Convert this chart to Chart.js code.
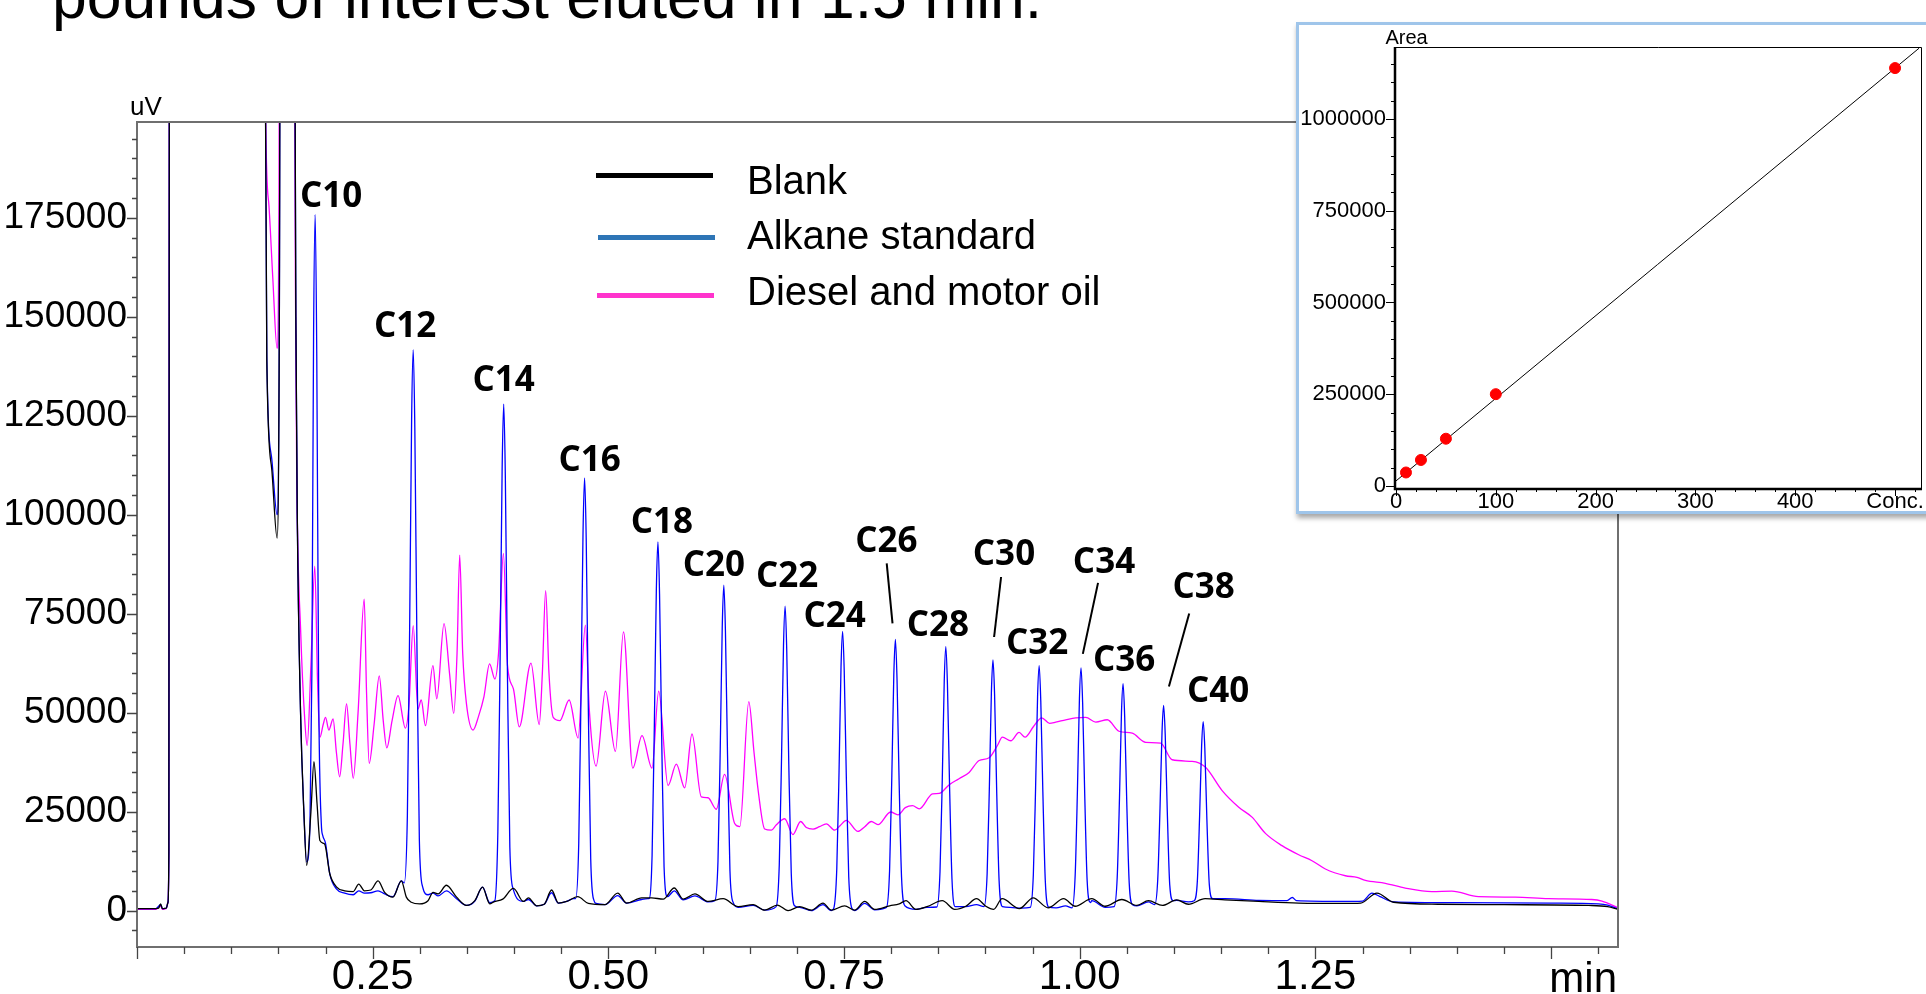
<!DOCTYPE html>
<html>
<head>
<meta charset="utf-8">
<script src="https://cdn.jsdelivr.net/npm/chart.js@4.4.1/dist/chart.umd.min.js"></script>
<style>
  html, body { margin: 0; padding: 0; background: #fff; }
  body { width: 1926px; height: 994px; position: relative; overflow: hidden; font-family: 'Liberation Sans', Arial, sans-serif; }
  #title { position: absolute; left: 52px; top: -35px; font-size: 62.5px; line-height: 62px; white-space: nowrap; color: #000; }
  #main { position: absolute; left: 0; top: 0; }
  .legLine { position: absolute; width: 117px; height: 5px; }
  .legText { position: absolute; left: 747px; font-size: 40px; line-height: 40px; white-space: nowrap; color: #000; }
  #inset { position: absolute; left: 1296px; top: 22px; width: 640px; height: 486px; background: #fff;
           border: 3px solid #9fc5ea; box-shadow: 1px 4px 5px rgba(0,0,0,0.35); }
  #calib { position: absolute; left: 0; top: 0; }
</style>
</head>
<body>
<div id="title">pounds of interest eluted in 1.5 min.</div>
<canvas id="main" width="1926" height="994"></canvas>

<div class="legLine" style="left:596px; top:173px; background:#000;"></div>
<div class="legText" style="top:160px;">Blank</div>
<div class="legLine" style="left:598px; top:235px; background:#2e75b6;"></div>
<div class="legText" style="top:215px;">Alkane standard</div>
<div class="legLine" style="left:597px; top:293px; background:#ff33cc;"></div>
<div class="legText" style="top:271px;">Diesel and motor oil</div>

<div id="inset"><canvas id="calib" width="640" height="486"></canvas></div>

<script>
// Blank run (black trace), time in min / signal in uV
const blankTime = [0.000, 0.020, 0.023, 0.025, 0.027, 0.031, 0.0328, 0.0338, 0.0345, 0.134, 0.1377, 0.143, 0.1486, 0.151, 0.1525, 0.166,
  0.1685, 0.170, 0.1735, 0.177, 0.180, 0.1845, 0.1877, 0.191, 0.194, 0.199, 0.2045, 0.2115, 0.2203, 0.2294, 0.2352, 0.2412,
  0.248, 0.2557, 0.2627, 0.2715, 0.2804, 0.2857, 0.291, 0.2998, 0.3087, 0.314, 0.3194, 0.3282, 0.339, 0.3496, 0.3584, 0.3665,
  0.3742, 0.3785, 0.388, 0.3993, 0.4099, 0.4152, 0.424, 0.432, 0.4398, 0.447, 0.4558, 0.4675, 0.4788, 0.4964, 0.5099, 0.5194,
  0.5353, 0.5459, 0.5582, 0.5699, 0.5794, 0.5918, 0.6059, 0.6218, 0.6377, 0.6536, 0.6659, 0.6793, 0.6906, 0.7029, 0.7153, 0.7277,
  0.7365, 0.7506, 0.7613, 0.7719, 0.7825, 0.7984, 0.8086, 0.8157, 0.8263, 0.838, 0.8542, 0.8674, 0.8792, 0.8905, 0.9004, 0.9087,
  0.9177, 0.936, 0.9506, 0.9665, 0.9829, 0.9952, 1.0128, 1.027, 1.0447, 1.0606, 1.0729, 1.0878, 1.1029, 1.1153, 1.133, 1.154,
  1.19, 1.2323, 1.28, 1.298, 1.3153, 1.333, 1.38, 1.45, 1.54, 1.56, 1.571];
const blankUV = [500, 500, 600, 1700, 500, 600, 2000, 15000, 300000, 300000, 138800, 111400, 94100, 150000, 300000, 300000,
  150000, 100000, 50000, 25000, 11400, 25000, 37600, 27000, 17700, 16800, 9300, 6000, 5000, 4800, 6700, 5000,
  5200, 7500, 4600, 3400, 7500, 3400, 2100, 1700, 2500, 4600, 4200, 6400, 3400, 1300, 2500, 5900,
  1700, 2200, 2900, 5600, 2300, 3200, 1200, 1600, 5200, 1900, 2300, 3500, 1800, 1500, 4400, 1900,
  3200, 3200, 2900, 5700, 2900, 4200, 2300, 3000, 1000, 1500, 100, 1400, 0, 1000, 100, 1900,
  100, 1200, 100, 2300, 300, 1200, 1700, 2500, 300, 1000, 2500, 300, 1100, 3000, 1100, 300,
  3000, 500, 3200, 700, 3000, 1100, 3000, 1100, 2800, 1300, 2500, 1300, 2700, 1600, 3000, 2700,
  2300, 1900, 1800, 1900, 4400, 2100, 1600, 1500, 1300, 1000, 300];

// Alkane standard (blue trace)
const alkaneTime = [0.000, 0.020, 0.025, 0.027, 0.031, 0.0328, 0.0338, 0.0345, 0.134, 0.1377, 0.143, 0.1486, 0.151, 0.1525, 0.166,
  0.1685, 0.170, 0.1735, 0.177, 0.180, 0.1835, 0.1855, 0.1873, 0.189, 0.1907, 0.1927, 0.1955, 0.197, 0.200, 0.2045, 0.2115,
  0.2203, 0.2294, 0.2352, 0.2412, 0.248, 0.2557, 0.2627, 0.2715, 0.2804,
  0.2835, 0.2868, 0.2892, 0.2913, 0.293, 0.2947, 0.2969, 0.2995, 0.303,
  0.3087, 0.314, 0.3194, 0.3282, 0.339, 0.3496, 0.3584, 0.3665, 0.3742,
  0.3795, 0.3828, 0.3852, 0.3873, 0.389, 0.3907, 0.3929, 0.3955, 0.399,
  0.4099, 0.4152, 0.424, 0.432, 0.4398, 0.447, 0.4558, 0.463,
  0.4653, 0.4686, 0.471, 0.4731, 0.4748, 0.4765, 0.4787, 0.4813, 0.4848,
  0.487, 0.4964, 0.5099, 0.5194, 0.5353, 0.542,
  0.5431, 0.5464, 0.5488, 0.5509, 0.5526, 0.5543, 0.5565, 0.5591, 0.5626,
  0.5699, 0.5794, 0.5918, 0.6059,
  0.613, 0.6163, 0.6187, 0.6208, 0.6225, 0.6242, 0.6264, 0.629, 0.6325,
  0.6377, 0.6536, 0.6659,
  0.678, 0.6813, 0.6837, 0.6858, 0.6875, 0.6892, 0.6914, 0.694, 0.6975,
  0.7029, 0.7153, 0.7277, 0.7365,
  0.739, 0.7423, 0.7447, 0.7468, 0.7485, 0.7502, 0.7524, 0.755, 0.7585,
  0.7613, 0.7719, 0.7825,
  0.795, 0.7983, 0.8007, 0.8028, 0.8045, 0.8062, 0.8084, 0.811, 0.8145,
  0.8263, 0.838,
  0.8485, 0.8518, 0.8542, 0.8563, 0.858, 0.8597, 0.8619, 0.8645, 0.868,
  0.8792, 0.8905,
  0.8985, 0.9018, 0.9042, 0.9063, 0.908, 0.9097, 0.9119, 0.9145, 0.918,
  0.926, 0.938,
  0.9475, 0.9508, 0.9532, 0.9553, 0.957, 0.9587, 0.9609, 0.9635, 0.967,
  0.975, 0.985,
  0.9919, 0.9952, 0.9976, 0.9997, 1.0014, 1.0031, 1.0053, 1.0079, 1.0114,
  1.0128, 1.027,
  1.0365, 1.0398, 1.0422, 1.0443, 1.046, 1.0477, 1.0499, 1.0525, 1.056,
  1.0606, 1.0729,
  1.0795, 1.0828, 1.0852, 1.0873, 1.089, 1.0907, 1.0929, 1.0955, 1.099,
  1.1029, 1.1153,
  1.1215, 1.1248, 1.1272, 1.1293, 1.131, 1.1327, 1.1349, 1.1375, 1.141,
  1.154, 1.19, 1.22, 1.2255, 1.23, 1.28, 1.30, 1.31, 1.318, 1.333, 1.40, 1.50, 1.55, 1.56, 1.571];
const alkaneUV = [500, 500, 1500, 500, 600, 2000, 15000, 300000, 300000, 140000, 114000, 100000, 150000, 300000, 300000,
  150000, 100000, 50000, 25000, 12300, 22000, 60000, 145000, 175800, 140000, 55000, 22000, 19000, 17000, 9300, 5500,
  4400, 4000, 5000, 4400, 4500, 5000, 4200, 3500, 7500,
  7000, 24000, 71000, 124000, 141600, 122000, 68000, 18000, 6000,
  4000, 4400, 3700, 5000, 3000, 1300, 2400, 5900, 2000,
  2500, 20000, 64000, 111000, 127900, 110000, 61000, 16000, 5500,
  2300, 2800, 1200, 1600, 4500, 1900, 2300, 3000,
  3000, 17000, 55000, 95000, 109300, 94000, 52000, 13000, 2500,
  1800, 1500, 3800, 1900, 2800, 3000,
  3000, 14000, 47000, 81000, 93100, 80000, 45000, 11000, 3500,
  5000, 2700, 3700, 2200,
  2500, 12500, 41000, 71500, 82200, 70500, 39500, 10000, 2000,
  800, 1300, 100,
  1000, 11500, 38500, 67000, 76900, 66000, 37000, 9500, 1200,
  800, 0, 1500, 0,
  500, 10500, 35000, 61500, 70500, 60500, 34000, 8500, 500,
  0, 1800, 200,
  800, 10000, 34000, 59500, 68500, 58500, 33000, 8500, 1200,
  300, 800,
  900, 9800, 33000, 58000, 66700, 57000, 32000, 8000, 1000,
  1000, 1500,
  1000, 9300, 31500, 55000, 63300, 54500, 30500, 7500, 1000,
  800, 600,
  800, 9000, 31000, 54000, 61900, 53000, 30000, 7500, 900,
  700, 1200,
  700, 9000, 30500, 53500, 61300, 52500, 29500, 7500, 2000,
  2500, 800,
  1000, 8500, 28500, 50000, 57300, 49000, 27500, 7000, 1500,
  1200, 2200,
  1500, 8000, 26000, 45000, 51800, 44500, 25000, 6500, 2500,
  2600, 2200,
  2500, 7500, 24000, 41500, 47700, 41000, 23000, 6500, 3000,
  3000, 2600, 2500, 3300, 2500, 2300, 2400, 4400, 3600, 2200, 2000, 1900, 1700, 1400, 400];

// Diesel and motor oil (magenta trace)
const dieselTime = [0.000, 0.020, 0.025, 0.027, 0.031, 0.0328, 0.0338, 0.0345, 0.1345, 0.1365, 0.140, 0.144, 0.1486, 0.1505, 0.152,
  0.166, 0.168, 0.1694, 0.1737, 0.178, 0.1805, 0.1845, 0.1886, 0.1915, 0.194, 0.1975, 0.200, 0.2035, 0.208, 0.2115, 0.215,
  0.2185, 0.2223, 0.2259, 0.2294, 0.2345, 0.241, 0.2435, 0.2463, 0.2515, 0.257, 0.2612, 0.265, 0.2706, 0.2769, 0.2847, 0.2885,
  0.293, 0.298, 0.3015, 0.306, 0.3139, 0.318, 0.3257, 0.3315, 0.336, 0.3395, 0.3423, 0.3455, 0.3494, 0.3565, 0.3622, 0.368,
  0.374, 0.3796, 0.3835, 0.3887, 0.393, 0.3993, 0.4055, 0.4179, 0.4267, 0.430, 0.4335, 0.437, 0.4415, 0.4486, 0.4584, 0.4679,
  0.4756, 0.480, 0.487, 0.4969, 0.5075, 0.516, 0.5259, 0.5357, 0.5463, 0.5534, 0.5633, 0.5721, 0.581, 0.5887, 0.5986, 0.6057,
  0.6145, 0.6233, 0.634, 0.6395, 0.649, 0.6545, 0.6591, 0.6658, 0.6729, 0.678, 0.687, 0.6958, 0.7039, 0.710, 0.7171, 0.724,
  0.7312, 0.7401, 0.746, 0.7524, 0.7648, 0.772, 0.7789, 0.786, 0.7994, 0.8072, 0.815, 0.8227, 0.8298, 0.8439, 0.851, 0.8616,
  0.872, 0.8827, 0.8933, 0.9039, 0.9127, 0.918, 0.9269, 0.9357, 0.942, 0.951, 0.9597, 0.968, 0.9746, 0.9852, 0.9958, 1.0064,
  1.017, 1.0293, 1.0416, 1.0557, 1.070, 1.0858, 1.0981, 1.1193, 1.1335, 1.1511, 1.1687, 1.1828, 1.197, 1.2146, 1.2323, 1.2464,
  1.2606, 1.2818, 1.2941, 1.303, 1.3242, 1.3453, 1.3736, 1.3947, 1.423, 1.4619, 1.4972, 1.5431, 1.554, 1.571];
const dieselUV = [300, 300, 1200, 300, 500, 2000, 15000, 300000, 300000, 200000, 178000, 160000, 142000, 175000, 300000,
  300000, 160000, 111000, 70000, 48000, 41700, 62000, 87000, 58000, 43800, 47000, 48800, 45600, 48400, 40000, 33800,
  42000, 52200, 42000, 33400, 50000, 78700, 55000, 37200, 47000, 59300, 48000, 41100, 48000, 54300, 46100, 52000,
  72000, 50900, 53200, 46700, 61900, 53500, 72500, 60000, 49800, 65000, 89800, 65000, 52400, 45600, 49000, 54000,
  62300, 58500, 65000, 90200, 62000, 56000, 46400, 62500, 47000, 60000, 80800, 60000, 48800, 48000, 53200, 43600,
  72100, 50000, 36500, 55400, 40200, 70400, 36000, 44200, 36000, 55400, 31600, 37000, 31000, 44600, 28700, 28500,
  25600, 34400, 22000, 21200, 52800, 40000, 30000, 20600, 20300, 21600, 23200, 19200, 22500, 21000, 20600, 21200,
  21900, 20300, 21500, 22800, 20000, 21200, 22500, 21700, 24900, 24200, 26000, 26500, 25700, 29500, 29600, 31800,
  33300, 34900, 37900, 38600, 41700, 43800, 42900, 45000, 43800, 46500, 48700, 47300, 47600, 48200, 48700, 48800,
  47600, 48200, 45300, 44800, 42500, 42300, 38100, 37700, 36200, 30300, 26100, 23600, 19500, 16400, 14100, 12600,
  10500, 8800, 8400, 7600, 6900, 5700, 4800, 4900, 3500, 3400, 3000, 2800, 2400, 700];

// n-alkane peak labels
const peakNames = ['C10', 'C12', 'C14', 'C16', 'C18', 'C20', 'C22', 'C24', 'C26', 'C28', 'C30', 'C32', 'C34', 'C36', 'C38', 'C40'];
const peakTimes = [0.189, 0.293, 0.389, 0.4748, 0.5526, 0.6225, 0.6875, 0.7485, 0.8045, 0.858, 0.908, 0.957, 1.0014, 1.046, 1.089, 1.131];
const peakHeights = [175800, 141600, 127900, 109300, 93100, 82200, 76900, 70500, 68500, 66700, 63300, 61900, 61300, 57300, 51800, 47700];

// calibration inset
const calConc = [10, 25, 50, 100, 500];
const calArea = [36800, 70900, 128800, 250200, 1138800];
const fitConc = [0, 524];
const fitArea = [13800, 1192800];

// layout of label text relative to the apex (px), and leader lines
const labelOffsets = [[16, -20], [-8, -26], [0, -26], [5, -19], [4, -22], [-10, -22], [2, -32], [-8, -17],
  [-9, -100], [-8, -23], [11, -107], [-2, -24], [23, -107], [1, -25], [40, -120], [15, -32]];
const leaderLines = { 8: [-8.7, -76, -2.9, -16], 10: [8.1, -83, 1.1, -23], 12: [17, -85, 1.8, -14], 14: [25.6, -92, 5.3, -19] };

const SANS = "'Liberation Sans', Arial, sans-serif";

function toPoints(xs, ys) {
  return xs.map((x, i) => ({ x: x, y: ys[i] }));
}

const mainDecor = {
  id: 'mainDecor',
  afterDraw(chart) {
    const { ctx, chartArea: a, scales: { x, y } } = chart;
    ctx.save();
    ctx.strokeStyle = '#6f6f6f';
    ctx.lineWidth = 2;
    ctx.strokeRect(a.left, a.top, a.right - a.left, a.bottom - a.top);

    ctx.strokeStyle = '#444';
    ctx.lineWidth = 1.3;
    ctx.beginPath();
    y.ticks.forEach(t => {
      const py = Math.round(y.getPixelForValue(t.value)) + 0.5;
      const len = t.value % 25000 === 0 ? 10 : 5;
      ctx.moveTo(a.left - len, py);
      ctx.lineTo(a.left, py);
    });
    x.ticks.forEach(t => {
      const px = Math.round(x.getPixelForValue(t.value)) + 0.5;
      const len = Math.round(t.value * 100) % 25 === 0 ? 12 : 7;
      ctx.moveTo(px, a.bottom);
      ctx.lineTo(px, a.bottom + len);
    });
    ctx.stroke();

    ctx.fillStyle = '#000';
    ctx.font = '26px ' + SANS;
    ctx.textAlign = 'center';
    ctx.textBaseline = 'alphabetic';
    ctx.fillText('uV', a.left + 9, 115);
    ctx.font = '42px ' + SANS;
    ctx.textAlign = 'right';
    ctx.fillText('min', a.right - 1, 992);

    ctx.font = "bold 35px 'Open Sans', sans-serif";
    ctx.textAlign = 'center';
    peakNames.forEach((name, i) => {
      const px = x.getPixelForValue(peakTimes[i]);
      const py = y.getPixelForValue(peakHeights[i]);
      const off = labelOffsets[i];
      ctx.fillText(name, px + off[0], py + off[1] + 12.5);
      const ln = leaderLines[i];
      if (ln) {
        ctx.beginPath();
        ctx.strokeStyle = '#000';
        ctx.lineWidth = 2;
        ctx.moveTo(px + ln[0], py + ln[1]);
        ctx.lineTo(px + ln[2], py + ln[3]);
        ctx.stroke();
      }
    });
    ctx.restore();
  }
};

new Chart(document.getElementById('main'), {
  type: 'line',
  data: {
    datasets: [
      { label: 'Blank', data: toPoints(blankTime, blankUV), borderColor: '#000000' },
      { label: 'Alkane standard', data: toPoints(alkaneTime, alkaneUV), borderColor: '#0000ff' },
      { label: 'Diesel and motor oil', data: toPoints(dieselTime, dieselUV), borderColor: '#ff00ff' }
    ]
  },
  options: {
    responsive: false,
    animation: false,
    devicePixelRatio: 1,
    layout: { padding: { top: 122, right: 308, left: 0, bottom: 0 } },
    plugins: { legend: { display: false }, tooltip: { enabled: false } },
    elements: {
      point: { radius: 0 },
      line: { borderWidth: 1.3, cubicInterpolationMode: 'monotone' }
    },
    scales: {
      x: {
        type: 'linear', min: 0, max: 1.571,
        grid: { display: false, drawTicks: false }, border: { display: false },
        afterBuildTicks: s => {
          const t = [];
          for (let k = 0; k <= 31; k++) t.push({ value: k * 0.05 });
          s.ticks = t;
        },
        afterFit: s => { s.height = 47; },
        ticks: {
          autoSkip: false, maxRotation: 0, padding: 9, color: '#000',
          font: { family: SANS, size: 42, lineHeight: 1 },
          callback: v => {
            const c = Math.round(v * 100);
            return (c > 0 && c <= 125 && c % 25 === 0) ? (c / 100).toFixed(2) : '';
          }
        }
      },
      y: {
        type: 'linear', min: -9200, max: 199200,
        grid: { display: false, drawTicks: false }, border: { display: false },
        afterBuildTicks: s => {
          const t = [];
          for (let v = -5000; v <= 195000; v += 5000) t.push({ value: v });
          s.ticks = t;
        },
        afterFit: s => { s.width = 137; },
        ticks: {
          autoSkip: false, padding: 10, color: '#000',
          font: { family: SANS, size: 37, lineHeight: 1 },
          callback: v => (v % 25000 === 0 ? String(v) : '')
        }
      }
    }
  },
  plugins: [mainDecor]
});

const insetDecor = {
  id: 'insetDecor',
  afterDraw(chart) {
    const { ctx, chartArea: a, scales: { x, y } } = chart;
    ctx.save();
    ctx.strokeStyle = '#000';
    ctx.lineWidth = 1;
    ctx.beginPath();
    ctx.moveTo(a.left, a.top + 0.5);
    ctx.lineTo(a.right - 0.5, a.top + 0.5);
    ctx.lineTo(a.right - 0.5, a.bottom);
    ctx.stroke();
    ctx.lineWidth = 2.5;
    ctx.beginPath();
    ctx.moveTo(a.left, a.top);
    ctx.lineTo(a.left, a.bottom);
    ctx.lineTo(a.right, a.bottom);
    ctx.stroke();

    ctx.lineWidth = 1;
    ctx.beginPath();
    y.ticks.forEach(t => {
      const py = Math.round(y.getPixelForValue(t.value)) + 0.5;
      const len = t.value % 250000 === 0 ? 9 : 4;
      ctx.moveTo(a.left - len, py);
      ctx.lineTo(a.left, py);
    });
    x.ticks.forEach(t => {
      const px = Math.round(x.getPixelForValue(t.value)) + 0.5;
      const len = t.value % 100 === 0 ? 7 : 3;
      ctx.moveTo(px, a.bottom);
      ctx.lineTo(px, a.bottom + len);
    });
    ctx.stroke();

    ctx.fillStyle = '#000';
    ctx.font = '20px ' + SANS;
    ctx.textAlign = 'left';
    ctx.textBaseline = 'alphabetic';
    ctx.fillText('Area', a.left - 9.5, 19);
    ctx.restore();
  }
};

new Chart(document.getElementById('calib'), {
  type: 'scatter',
  data: {
    datasets: [
      { type: 'scatter', data: toPoints(calConc, calArea), backgroundColor: '#ff0000', borderColor: '#ff0000', pointRadius: 5.5, order: 0 },
      { type: 'line', data: toPoints(fitConc, fitArea), borderColor: '#000000', borderWidth: 1, pointRadius: 0, order: 1 }
    ]
  },
  options: {
    responsive: false,
    animation: false,
    devicePixelRatio: 1,
    layout: { padding: { top: 22, right: 17, left: 0, bottom: 0 } },
    plugins: { legend: { display: false }, tooltip: { enabled: false } },
    scales: {
      x: {
        type: 'linear', min: -1, max: 527,
        grid: { display: false, drawTicks: false }, border: { display: false },
        afterBuildTicks: s => {
          const t = [];
          for (let v = 0; v <= 520; v += 20) t.push({ value: v });
          s.ticks = t;
        },
        afterFit: s => { s.height = 22; },
        ticks: {
          autoSkip: false, maxRotation: 0, padding: 2, color: '#000',
          font: { family: SANS, size: 22, lineHeight: 1 },
          callback: v => (v === 500 ? 'Conc.' : (v % 100 === 0 ? String(v) : ''))
        }
      },
      y: {
        type: 'linear', min: -8200, max: 1196200,
        grid: { display: false, drawTicks: false }, border: { display: false },
        afterBuildTicks: s => {
          const t = [];
          for (let v = 0; v <= 1150000; v += 50000) t.push({ value: v });
          s.ticks = t;
        },
        afterFit: s => { s.width = 96; },
        ticks: {
          autoSkip: false, padding: 9, color: '#000',
          font: { family: SANS, size: 22, lineHeight: 1 },
          callback: v => (v % 250000 === 0 ? String(v) : '')
        }
      }
    }
  },
  plugins: [insetDecor]
});
</script>
</body>
</html>
